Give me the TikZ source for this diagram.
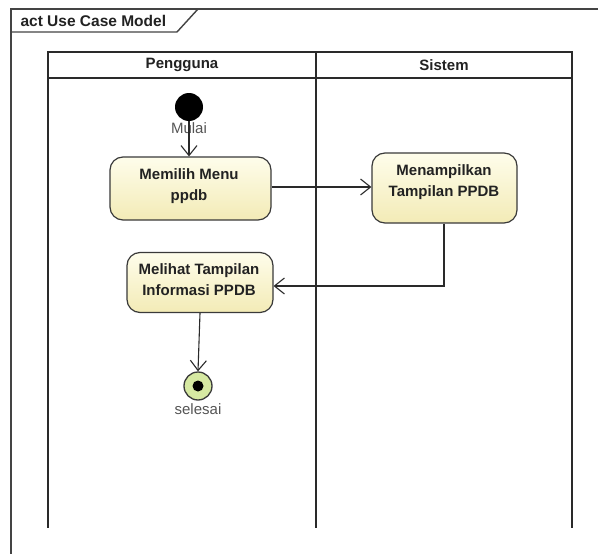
\documentclass[tikz,border=0pt]{standalone}
\usepackage{fontspec}
\setmainfont{Liberation Sans}
\usetikzlibrary{arrows.meta}
\definecolor{frameC}{HTML}{444444}
\definecolor{laneC}{HTML}{2A2A2A}
\definecolor{boxTop}{HTML}{FEFDEB}
\definecolor{boxBot}{HTML}{F3EBB6}
\definecolor{boxLine}{HTML}{3A3A3A}
\definecolor{endFill}{HTML}{D6E9A2}
\definecolor{txtC}{HTML}{222222}
\definecolor{lblC}{HTML}{555555}
\tikzset{
  frameline/.style={draw=frameC, line width=1.4pt},
  laneline/.style={draw=laneC, line width=1.8pt},
  actbox/.style={draw=boxLine, line width=1.2pt, rounded corners=13pt, top color=boxTop, bottom color=boxBot, minimum width=#1},
  acttext/.style={text=txtC, font=\fontsize{15}{21}\selectfont\bfseries, align=center},
  hdrtext/.style={text=txtC, font=\fontsize{15}{17}\selectfont\bfseries},
  lbltext/.style={text=lblC, font=\fontsize{15}{17}\selectfont},
  flow/.style={draw=laneC, line width=1.1pt, -{Straight Barb[length=10pt,width=16pt,line width=1.1pt]}},
}
\begin{document}
\begin{tikzpicture}[x=1pt,y=-1pt]
\useasboundingbox (0,0) rectangle (598,554);
\fill[white] (0,0) rectangle (598,554);
% outer frame
\draw[frameline] (11,556) -- (11,9) -- (602,9);
\draw[frameline] (11,32) -- (177,32) -- (198,9);
\node[hdrtext, anchor=west, font=\fontsize{15.5}{17}\selectfont\bfseries] (title) at (17,20.5) {act Use Case Model};
% swimlanes
\draw[laneline] (48,52) rectangle (572,78);
\draw[laneline] (48,78) -- (48,528);
\draw[laneline] (316,52) -- (316,528);
\draw[laneline] (572,78) -- (572,528);
\node[hdrtext] (lane1) at (182,65) {Pengguna};
\node[hdrtext] (lane2) at (444,65) {Sistem};
% start
\node[circle, fill=black, minimum size=28pt, inner sep=0pt] (start) at (189,107) {};
\node[lbltext] (mulai) at (189,128) {Mulai};
% activities
\node[actbox=161pt, minimum height=63pt] (b1) at (190.5,188.5) {};
\node[acttext] (t1) at (189,186.5) {Memilih Menu\\ppdb};
\node[actbox=145pt, minimum height=70pt] (b2) at (444.5,188) {};
\node[acttext] (t2) at (444,182.5) {Menampilkan\\Tampilan PPDB};
\node[actbox=146pt, minimum height=60pt] (b3) at (200,282.5) {};
\node[acttext] (t3) at (199,280) {Melihat Tampilan\\Informasi PPDB};
% end
\node[circle, draw=boxLine, line width=1.3pt, fill=endFill, minimum size=28pt, inner sep=0pt] (end) at (198,386) {};
\fill[black] (end.center) circle (5.5pt);
\node[lbltext] (selesai) at (198,409) {selesai};
% flows
\draw[flow] (start.south) -- (start.south |- b1.north);
\draw[flow] (b1.east |- 0,187) -- (b2.west |- 0,187);
\coordinate (bend) at (444,286);
\draw[flow] (b2.south -| bend) -- (bend) -- (b3.east |- bend);
\draw[flow] (b3.south) -- (end.north);
\end{tikzpicture}
\end{document}
